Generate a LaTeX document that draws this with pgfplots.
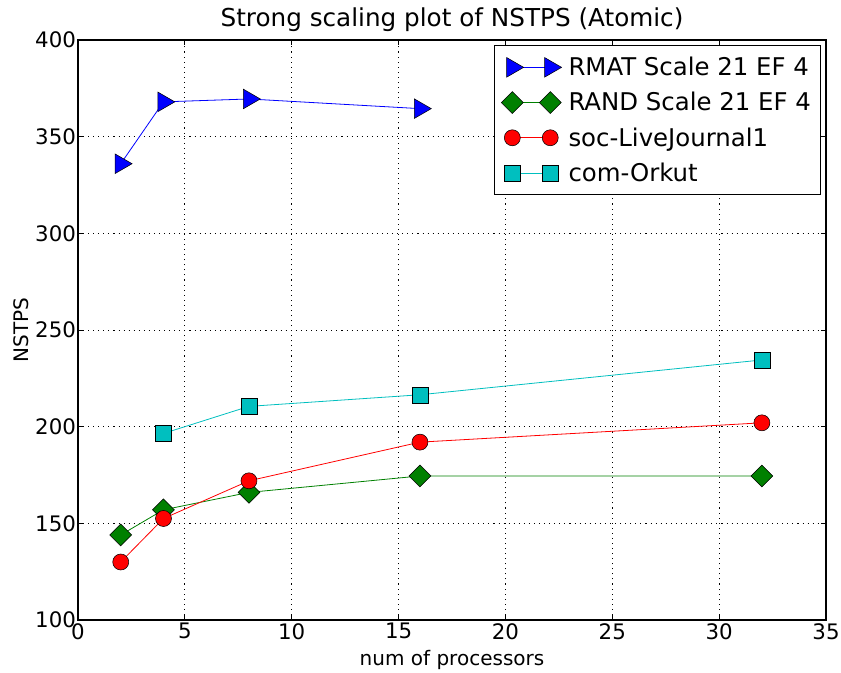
\documentclass[border=0pt]{standalone}
\usepackage{pgfplots}
\pgfplotsset{compat=1.18}
\usepackage{fontspec}
\setmainfont{DejaVu Sans}
\definecolor{mgreen}{rgb}{0,0.5,0}
\definecolor{mcyan}{rgb}{0,0.75,0.75}
\begin{document}
\begin{tikzpicture}[x=1pt,y=1pt]
\begin{axis}[
  name=ax,
  scale only axis,
  width=561pt, height=435pt,
  xmin=0, xmax=35, ymin=100, ymax=400,
  xtick={0,5,...,35}, ytick={100,150,...,400},
  grid=major,
  major grid style={black, line width=0.6pt, dash pattern=on 0.8pt off 3pt},
  axis line style={black, line width=0.8pt},
  tick align=inside,
  tick style={black, line width=0.6pt},
  major tick length=4pt,
  /pgf/number format/assume math mode=true,
  tick label style={font=\fontsize{16}{18}\selectfont},
  xticklabel style={yshift=1pt},
  yticklabel style={xshift=2pt},
  label style={font=\fontsize{15}{17}\selectfont},
  title style={font=\fontsize{18.5}{21}\selectfont, yshift=-3pt},
  title={Strong scaling plot of NSTPS (Atomic)},
  xlabel={num of processors},
  ylabel={NSTPS},
  xlabel style={yshift=-1pt},
  ylabel style={yshift=-2pt},
  legend style={at={(0.993,0.991)}, anchor=north east, draw=black, line width=0.8pt,
    font=\fontsize{18.3}{21}\selectfont, row sep=7pt, inner xsep=5pt, inner ysep=6.5pt, cells={anchor=west}},
  legend image code/.code={\path (0cm,0cm) (1.55cm,0cm);\draw plot coordinates {(0.15cm,0cm) (1.15cm,0cm)};},
  every axis plot/.append style={line width=0.6pt},
]
\addplot[blue, mark=triangle*, mark size=8.5pt, mark options={solid, fill=blue, draw=black, line width=0.4pt, rotate=-90}] coordinates {(2,336) (4,368) (8,369.5) (16,364.5)};
\addlegendentry{RMAT Scale 21 EF 4}
\addplot[mgreen, mark=square*, mark size=5.8pt, mark options={solid, fill=mgreen, draw=black, line width=0.4pt, rotate=45}] coordinates {(2,144) (4,157) (8,166) (16,174.5) (32,174.5)};
\addlegendentry{RAND Scale 21 EF 4}
\addplot[red, mark=*, mark size=6pt, mark options={solid, fill=red, draw=black, line width=0.4pt}] coordinates {(2,130) (4,152.5) (8,172) (16,192) (32,202)};
\addlegendentry{soc-LiveJournal1}
\addplot[mcyan, mark=square*, mark size=6pt, mark options={solid, fill=mcyan, draw=black, line width=0.4pt}] coordinates {(4,196.5) (8,210.5) (16,216.5) (32,234.5)};
\addlegendentry{com-Orkut}
\end{axis}
\pgfresetboundingbox
\path (ax.south west) ++(-58.5pt,-39pt) (ax.north east) ++(11.25pt,30pt);
\end{tikzpicture}
\end{document}
